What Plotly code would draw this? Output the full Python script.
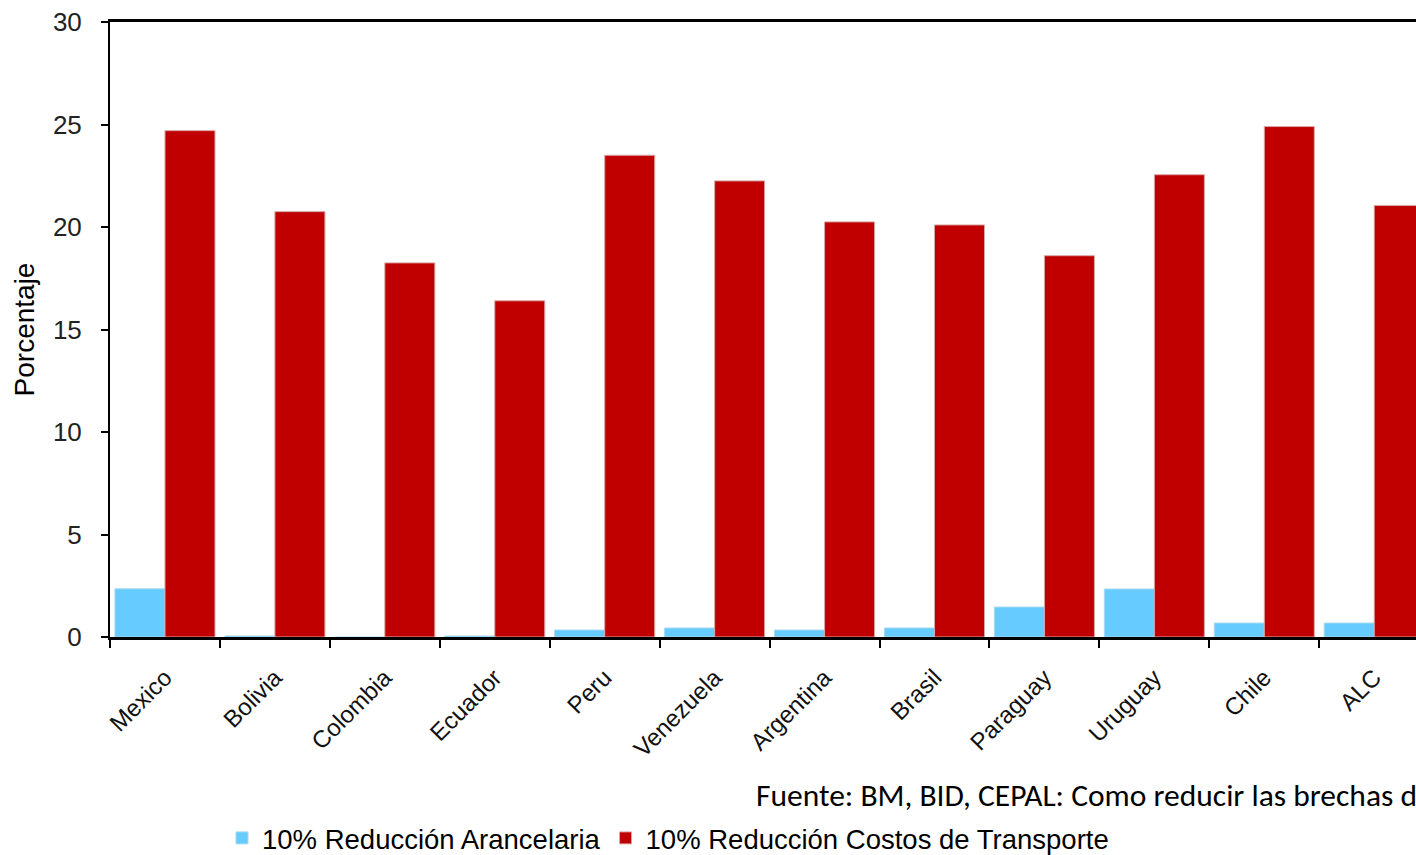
import plotly.graph_objects as go

# Países / regiones y efectos estimados (%)
paises = ["Mexico", "Bolivia", "Colombia", "Ecuador", "Peru", "Venezuela",
          "Argentina", "Brasil", "Paraguay", "Uruguay", "Chile", "ALC"]
reduccion_arancelaria = [2.35, 0.05, -0.05, 0.05, 0.34, 0.44,
                         0.34, 0.44, 1.46, 2.34, 0.68, 0.68]
reduccion_transporte = [24.7, 20.75, 18.25, 16.4, 23.5, 22.25,
                        20.25, 20.1, 18.6, 22.55, 24.9, 21.05]
y_ticks = [0, 5, 10, 15, 20, 25, 30]

SANS = "Liberation Sans, Arial, sans-serif"

fig = go.Figure()
fig.add_trace(go.Bar(
    x=paises, y=reduccion_arancelaria, name="10% Reducción Arancelaria",
    marker=dict(color="#66CCFF", line=dict(color="#a6d8f2", width=1)),
))
fig.add_trace(go.Bar(
    x=paises, y=reduccion_transporte, name="10% Reducción Costos de Transporte",
    marker=dict(color="#C00000", line=dict(color="#d8a6a6", width=1)),
))

fig.update_layout(
    width=1416, height=855,
    margin=dict(l=110, r=0, t=22, b=218, autoexpand=False),
    paper_bgcolor="white", plot_bgcolor="white",
    barmode="group", bargap=0.09, bargroupgap=0,
    showlegend=True,
    legend=dict(
        orientation="h", xref="container", yref="container",
        x=222 / 1416, xanchor="left", y=1 - 838 / 855, yanchor="middle",
        font=dict(family=SANS, size=27.5, color="#000"),
        itemwidth=30, tracegroupgap=0,
    ),
    annotations=[dict(
        text="Fuente: BM, BID, CEPAL: Como reducir las brechas de integración",
        xref="paper", yref="paper", x=(754 - 110) / 1306, y=(637 - 795) / 615,
        xanchor="left", yanchor="middle", showarrow=False,
        font=dict(family="Carlito, Calibri, Open Sans, sans-serif", size=31.5, color="#000"),
    )],
)

fig.update_xaxes(
    type="category", range=[-0.5, 11.38],
    showline=True, linecolor="#000", linewidth=3, mirror=True,
    ticks="outside", tickson="boundaries", ticklen=8, tickwidth=2, tickcolor="#000",
    tickangle=-45, tickfont=dict(family=SANS, size=24, color="#111"),
    ticklabelstandoff=14,
    showgrid=False,
)
fig.update_yaxes(
    range=[0, 30], tickvals=y_ticks, ticktext=[str(v) for v in y_ticks],
    showline=True, linecolor="#000", linewidth=2,
    ticks="outside", ticklen=7, tickwidth=2, tickcolor="#000",
    tickfont=dict(family=SANS, size=26, color="#222"),
    ticklabelstandoff=14,
    showgrid=False, zeroline=False,
    title=dict(text="Porcentaje", font=dict(family=SANS, size=28, color="#000"), standoff=10),
)

fig.write_html("out.html")
